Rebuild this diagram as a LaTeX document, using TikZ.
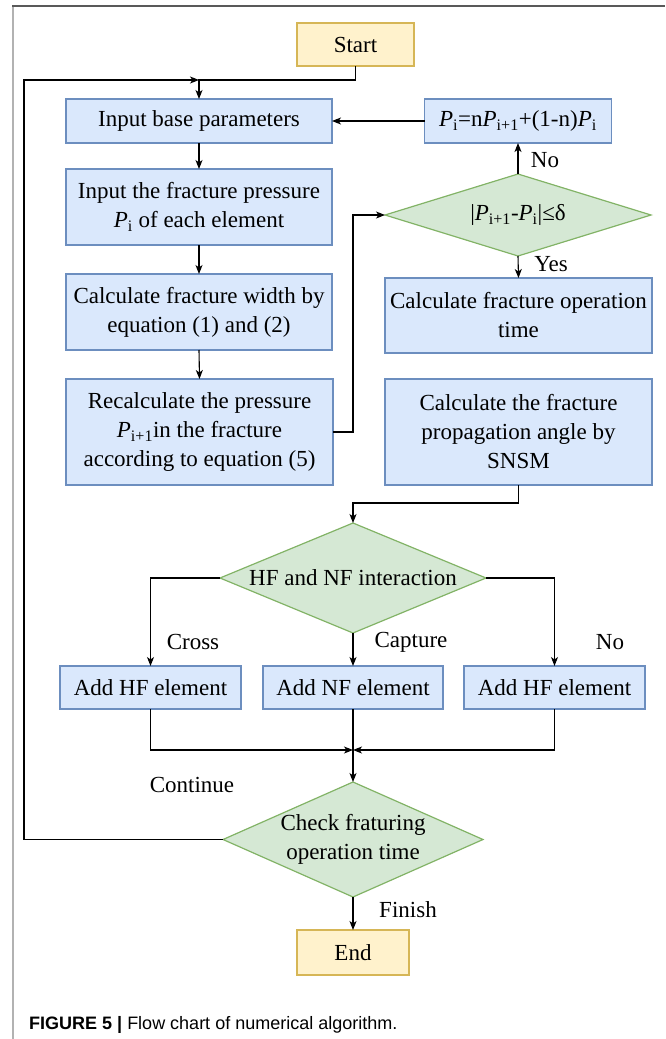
\documentclass[tikz,border=0pt]{standalone}
\usepackage{fontspec}
\setmainfont{Liberation Serif}
\newfontfamily\capfont{Liberation Sans}
\usetikzlibrary{shapes.geometric,arrows.meta}
\definecolor{bfill}{HTML}{DAE8FC}
\definecolor{bdraw}{HTML}{6C8EBF}
\definecolor{gfill}{HTML}{D5E8D4}
\definecolor{gdraw}{HTML}{82B366}
\definecolor{ofill}{HTML}{FFF2CC}
\definecolor{odraw}{HTML}{D6B656}
\newcommand\Pv[1]{\textit{P}\textsubscript{#1}}
\tikzset{
  txt/.style={font=\fontsize{23}{29}\selectfont, align=center, inner sep=0pt, outer sep=0pt},
  bbox/.style={txt, draw=bdraw, fill=bfill, line width=1.2pt, rectangle},
  obox/.style={txt, draw=odraw, fill=ofill, line width=1.2pt, rectangle},
  dia/.style={diamond, draw=gdraw, fill=gfill, line width=1.2pt, inner sep=0pt, outer sep=0pt},
  arr/.style={-{Stealth[length=9pt,width=7pt,inset=2.5pt]}, line width=1.1pt},
  ln/.style={line width=1.1pt},
  lbl/.style={txt}
}
\begin{document}
\begin{tikzpicture}[x=1pt,y=-1pt]
\useasboundingbox (0,0) rectangle (665,1039);
% frame
\draw[line width=2pt, color=black!30] (13,6) -- (13,1039);
\draw[line width=1.5pt, color=black!65] (12,6) -- (665,6);

% nodes
\node[obox, minimum width=117, minimum height=43] (start) at (355.5,44.5) {Start};
\node[bbox, minimum width=266, minimum height=44] (base) at (199,121) {Input base parameters};
\node[bbox, minimum width=187, minimum height=44] (upd) at (518,121) {\Pv{i}=n\Pv{i+1}+(1-n)\Pv{i}};
\node[bbox, minimum width=266, minimum height=76] (press) at (199,207) {Input the fracture pressure\\\Pv{i} of each element};
\node[bbox, minimum width=266, minimum height=76] (width) at (199,312) {Calculate fracture width by\\equation (1) and (2)};
\node[bbox, minimum width=267, minimum height=106] (recalc) at (199.5,432) {Recalculate the pressure\\\Pv{i+1}in the fracture\\according to equation (5)};
\node[dia, minimum width=266, minimum height=82] (dec) at (518,215) {};
\node[txt] (dect) at (dec) {|\Pv{i+1}-\Pv{i}|≤δ};
\node[bbox, minimum width=267, minimum height=75] (optime) at (518.5,315.5) {Calculate fracture operation\\time};
\node[bbox, minimum width=267, minimum height=106] (prop) at (518.5,432) {Calculate the fracture\\propagation angle by\\SNSM};
\node[dia, minimum width=266, minimum height=110] (hf) at (353,578) {};
\node[txt] (hft) at (hf) {HF and NF interaction};
\node[bbox, minimum width=181, minimum height=43] (addL) at (150.5,687.5) {Add HF element};
\node[bbox, minimum width=180, minimum height=43] (addM) at (353,687.5) {Add NF element};
\node[bbox, minimum width=181, minimum height=43] (addR) at (554.5,687.5) {Add HF element};
\node[dia, minimum width=260, minimum height=115] (check) at (353,839.5) {};
\node[txt] (checkt) at (check) {Check fraturing\\operation time};
\node[obox, minimum width=112, minimum height=45] (end) at (353,952.5) {End};

% junctions
\coordinate (j1) at (199,80);
\coordinate (lt) at (24,80);
\coordinate (lb) at (24,839.5);
\coordinate (j2) at (353,503);
\coordinate (j3) at (353,750);
\coordinate (r1) at (353,432);

% connectors
\draw[arr] (start.south) |- (j1) -- (base.north);
\draw[arr] (check.west) -- (lb) -- (lt) -- (j1);
\draw[arr] (upd.west) -- (base.east);
\draw[arr] (dec.north) -- (upd.south);
\draw[arr] (base.south) -- (press.north);
\draw[arr] (press.south) -- (width.north);
\draw[arr] (width.south) -- (recalc.north);
\draw[arr] (recalc.east) -- (r1) |- (dec.west);
\draw[arr] (dec.south) -- (optime.north);
\draw[arr] (prop.south) |- (j2) -- (hf.north);
\draw[arr] (hf.west) -| (addL.north);
\draw[arr] (hf.south) -- (addM.north);
\draw[arr] (hf.east) -| (addR.north);
\draw[arr] (addL.south) |- (j3);
\draw[arr] (addR.south) |- (j3);
\draw[arr] (addM.south) -- (check.north);
\draw[arr] (check.south) -- (end.north);

% labels
\node[lbl] (lno1) at (545,160) {No};
\node[lbl] (lyes) at (551,264) {Yes};
\node[lbl] (lcross) at (193,642) {Cross};
\node[lbl] (lcap) at (411,642) {Capture};
\node[lbl] (lno2) at (610,642) {No};
\node[lbl] (lcont) at (192,785) {Continue};
\node[lbl] (lfin) at (408,910) {Finish};

% caption
\node[anchor=west, inner sep=0pt, font=\capfont\fontsize{18}{22}\selectfont] (cap) at (29,1025)
  {\textbf{FIGURE 5 |} Flow chart of numerical algorithm.};
\end{tikzpicture}
\end{document}
